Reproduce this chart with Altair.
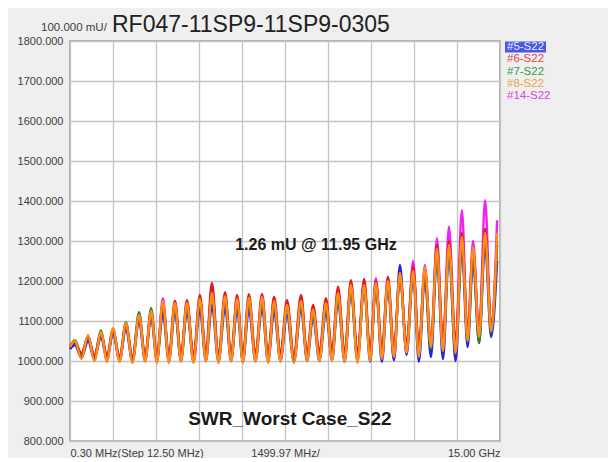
import altair as alt
import pandas as pd

# ---- data ----
series_names = ["#5-S22", "#6-S22", "#7-S22", "#8-S22", "#14-S22"]
series_colors = ["#2424e0", "#e41a1a", "#1f8a1f", "#ff8c1a", "#f022f0"]
legend_text_colors = ["#e8eaff", "#e04848", "#3a9a3a", "#f2a040", "#e040e0"]

# frequencies (GHz) of the ripple peaks and troughs
peak_f = [0.17, 0.63, 1.08, 1.50, 1.95, 2.41, 2.83, 3.24, 3.66, 4.08, 4.53, 4.95,
          5.41, 5.83, 6.24, 6.70, 7.12, 7.57, 8.06, 8.48, 8.93, 9.35, 9.80, 10.26,
          10.67, 11.09, 11.51, 11.97, 12.38, 12.80, 13.22, 13.67, 14.06, 14.48, 14.90]
trough_f = [0.40, 0.85, 1.29, 1.73, 2.18, 2.62, 3.03, 3.45, 3.87, 4.31, 4.74, 5.18,
            5.62, 6.03, 6.47, 6.91, 7.34, 7.81, 8.27, 8.70, 9.14, 9.58, 10.03, 10.47,
            10.88, 11.30, 11.74, 12.17, 12.59, 13.01, 13.45, 13.87, 14.27, 14.69]

start_vals = {"#5-S22": 1030, "#6-S22": 1040, "#7-S22": 1035, "#8-S22": 1035, "#14-S22": 1030}

peaks = {
    "#5-S22": [1040, 1050, 1060, 1070, 1080, 1100, 1110,
               1120, 1125, 1125, 1130, 1140, 1135, 1130, 1130, 1135, 1125, 1115, 1130, 1110, 1125,
               1150, 1175, 1190, 1185, 1190, 1240, 1215, 1210, 1260, 1270, 1280, 1250, 1290, 1250],
    "#6-S22": [1045, 1060, 1068, 1078, 1090, 1110, 1120,
               1140, 1150, 1152, 1165, 1195, 1172, 1165, 1167, 1165, 1161, 1152, 1165, 1140, 1157,
               1186, 1202, 1205, 1200, 1211, 1215, 1235, 1230, 1290, 1300, 1320, 1280, 1330, 1300],
    "#7-S22": [1052, 1062, 1077, 1080, 1097, 1122, 1132,
               1145, 1140, 1140, 1150, 1175, 1160, 1150, 1150, 1150, 1145, 1135, 1145, 1120, 1135,
               1160, 1185, 1185, 1190, 1195, 1210, 1230, 1220, 1270, 1280, 1300, 1270, 1330, 1290],
    "#8-S22": [1050, 1065, 1072, 1082, 1095, 1115, 1125,
               1150, 1145, 1145, 1155, 1170, 1162, 1155, 1158, 1160, 1150, 1140, 1150, 1128, 1145,
               1170, 1190, 1190, 1195, 1200, 1220, 1225, 1235, 1280, 1290, 1310, 1285, 1320, 1320],
    "#14-S22": [1045, 1058, 1070, 1075, 1092, 1118, 1128,
                1157, 1150, 1148, 1158, 1180, 1165, 1160, 1160, 1168, 1158, 1145, 1160, 1135, 1150,
                1175, 1195, 1200, 1207, 1205, 1225, 1250, 1240, 1307, 1336, 1377, 1300, 1402, 1352],
}

troughs = {
    "#5-S22": [1008, 1005, 1003, 1002, 1000, 1000, 1000, 998, 1000, 998, 1000, 998, 1000,
               998, 1000, 998, 1000, 998, 1000, 1000, 1002, 998, 1000, 998, 998, 1002,
               1015, 998, 1010, 1005, 1000, 1035, 1045, 1060],
    "#6-S22": [1020, 1015, 1012, 1010, 1010, 1012, 1010, 1010, 1012, 1010, 1015, 1010, 1012,
               1010, 1015, 1012, 1015, 1012, 1015, 1020, 1020, 1018, 1015, 1020, 1025, 1030,
               1040, 1035, 1045, 1050, 1045, 1070, 1075, 1090],
    "#7-S22": [1015, 1010, 1008, 1005, 1005, 1008, 1005, 1005, 1008, 1005, 1010, 1005, 1008,
               1005, 1010, 1008, 1010, 1008, 1012, 1015, 1015, 1012, 1010, 1015, 1020, 1020,
               1030, 1025, 1030, 1035, 1030, 1050, 1045, 1070],
    "#8-S22": [1005, 1000, 998, 998, 995, 998, 995, 995, 998, 995, 998, 995, 998,
               995, 998, 995, 998, 995, 1000, 1000, 1000, 998, 995, 1000, 1005, 1010,
               1020, 1010, 1035, 1025, 1020, 1050, 1060, 1075],
    "#14-S22": [1010, 1005, 1003, 1000, 1000, 1002, 1000, 1002, 1000, 1002, 1005, 1000, 1002,
                1000, 1005, 1002, 1005, 1002, 1005, 1008, 1008, 1005, 1003, 1008, 1010, 1003,
                1020, 1015, 1025, 1030, 1025, 1055, 1065, 1080],
}

y_ticks = [800, 900, 1000, 1100, 1200, 1300, 1400, 1500, 1600, 1700, 1800]
x_grid = [0, 1.5, 3.0, 4.5, 6.0, 7.5, 9.0, 10.5, 12.0, 13.5, 15.0]

FONT = "Liberation Sans"

# ---- build the table ----
rows = []
for name in series_names:
    fs = [0.0]
    vs = [start_vals[name]]
    p, t = peaks[name], troughs[name]
    for i in range(len(peak_f)):
        fs.append(peak_f[i]); vs.append(p[i])
        if i < len(trough_f):
            fs.append(trough_f[i]); vs.append(t[i])
    for k, (f, v) in enumerate(zip(fs, vs)):
        rows.append({"series": name, "f": f, "v": v, "k": k})
df = pd.DataFrame(rows)

x_scale = alt.Scale(domain=[0, 15], nice=False, zero=False)
y_scale = alt.Scale(domain=[800, 1800], nice=False, zero=False)

x_axis = alt.Axis(
    values=x_grid, title=None, ticks=False, domain=False,
    labelExpr="datum.value == 0 ? '0.30 MHz(Step 12.50 MHz)' : datum.value == 7.5 ? '1499.97 MHz/' : datum.value == 15 ? '15.00 GHz' : ''",
    labelFlush=True, labelOverlap=False, labelPadding=6,
    labelFont=FONT, labelFontSize=11, labelColor="#404040",
    grid=True, gridColor="#c4c4c4", gridWidth=1.3,
)
y_axis = alt.Axis(
    values=y_ticks, title=None, ticks=False, domain=False, format=".3f",
    labelOverlap=False, labelFlush=False,
    labelPadding=7, labelFont=FONT, labelFontSize=11, labelColor="#404040",
    grid=True, gridColor="#c4c4c4", gridWidth=1.3,
)

X = lambda: alt.X("f:Q", scale=x_scale, axis=x_axis)
Y = lambda: alt.Y("v:Q", scale=y_scale, axis=y_axis)

draw_order = ["#14-S22", "#5-S22", "#7-S22", "#6-S22", "#8-S22"]
layers = []
for idx, name in enumerate(draw_order):
    col = series_colors[series_names.index(name)]
    layers.append(
        alt.Chart(df[df.series == name]).mark_line(
            color=col, strokeWidth=2.4, interpolate="monotone"
        ).encode(x=X(), y=Y(), order="k:Q")
    )

# annotations placed in data space
ann = pd.DataFrame({"f": [8.58], "v": [1290], "t": ["1.26 mU @ 11.95 GHz"]})
ann_layer = alt.Chart(ann).mark_text(
    font=FONT, fontSize=16, fontWeight="bold", color="#1a1a1a", align="center", baseline="middle"
).encode(x=X(), y=Y(), text="t:N")

cap = pd.DataFrame({"f": [7.67], "v": [855], "t": ["SWR_Worst Case_S22"]})
cap_layer = alt.Chart(cap).mark_text(
    font=FONT, fontSize=19, fontWeight="bold", color="#1a1a1a", align="center", baseline="middle"
).encode(x=X(), y=Y(), text="t:N")

one = pd.DataFrame({"a": [0]})

# header texts (outside the plot, placed as mark properties)
hdr_small = alt.Chart(one).mark_text(
    font=FONT, fontSize=11.5, color="#404040", align="left", baseline="alphabetic",
    x=-29, y=-10, text="100.000 mU/"
).encode()
hdr_big = alt.Chart(one).mark_text(
    font=FONT, fontSize=23, color="#222222", align="left", baseline="alphabetic",
    x=42, y=-9, text="RF047-11SP9-11SP9-0305"
).encode()

# legend (colored text list, first entry highlighted)
leg_box = alt.Chart(one).mark_rect(color="#4a58e4").encode(
    x=alt.value(435), x2=alt.value(476), y=alt.value(0.5), y2=alt.value(11.5)
)
leg_layers = []
for i, (name, c) in enumerate(zip(series_names, legend_text_colors)):
    leg_layers.append(
        alt.Chart(one).mark_text(
            font=FONT, fontSize=11.5, align="left", baseline="middle",
            x=437, y=6 + 12.3 * i, text=name, color=c
        ).encode()
    )

chart = alt.layer(
    *layers, ann_layer, cap_layer, hdr_small, hdr_big, leg_box, *leg_layers
).properties(
    width=430, height=400,
    autosize=alt.AutoSizeParams(type="none"),
    padding={"left": 62, "top": 33, "right": 108, "bottom": 17},
    background="#efefef",
    view=alt.ViewBackground(fill="#ffffff", stroke="#9a9a9a", strokeWidth=1.5),
).configure_view(
    fill="#ffffff", stroke="#9a9a9a", strokeWidth=1.5
)

chart.save("out.html", embed_options={"renderer": "svg", "actions": False})
